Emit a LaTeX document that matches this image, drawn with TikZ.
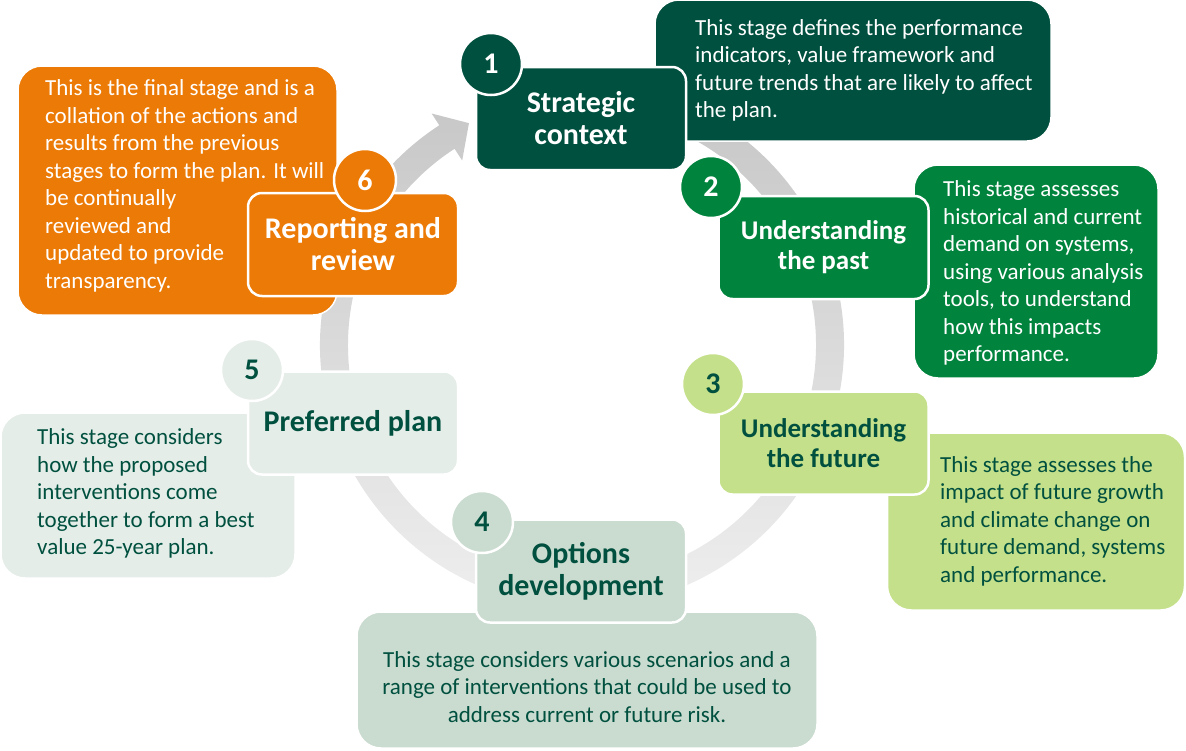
\documentclass[tikz,border=0pt]{standalone}
\usepackage{fontspec}
\setmainfont{Carlito}
\usetikzlibrary{calc}

\definecolor{dkgreen}{HTML}{00503F}
\definecolor{midgreen}{HTML}{00843D}
\definecolor{ltgreen}{HTML}{C5E08A}
\definecolor{sage}{HTML}{CADBCF}
\definecolor{pale}{HTML}{E5EDE8}
\definecolor{orange}{HTML}{EC7A06}
\definecolor{ringtop}{HTML}{C6C6C6}
\definecolor{ringbot}{HTML}{F0F0F0}

\tikzset{
  descbox/.style={rounded corners=24pt, draw=white, line width=1.5pt, inner sep=0pt},
  desctext/.style={inner sep=0pt, align=left, font=\fontsize{23}{27.5}\selectfont},
  stage/.style={rounded corners=14pt, draw=white, line width=2.5pt, minimum width=210pt,
    minimum height=103pt, inner sep=0pt, align=center, font=\bfseries\fontsize{30}{32}\selectfont},
  smallstage/.style={stage, font=\bfseries\fontsize{27}{30}\selectfont},
  num/.style={circle, draw=white, line width=2.5pt, minimum size=62pt, inner sep=0pt,
    font=\bfseries\fontsize{30}{30}\selectfont}
}

\begin{document}
\begin{tikzpicture}[x=1pt,y=1pt,yscale=-1]
\useasboundingbox (0,0) rectangle (1186,750);

% ring with arrow
\coordinate (c) at (582,345);
\shade[top color=ringtop, bottom color=ringbot]
  ($(c)+(280:262)$) arc[start angle=280, end angle=597, radius=262]
  -- ($(c)+(597:276)$) -- ($(c)+(603:249)$) -- ($(c)+(597:220)$) -- ($(c)+(597:234)$)
  arc[start angle=597, end angle=280, radius=234] -- cycle;

% descriptions
\node[descbox, fill=dkgreen, minimum width=396pt, minimum height=141pt] (d1) at (853,70.5) {};
\node[desctext, text=white, anchor=west] (t1) at (695,70.5)
  {This stage defines the performance\\indicators, value framework and\\future trends that are likely to affect\\the plan.};

\node[descbox, fill=midgreen, minimum width=244pt, minimum height=213pt] (d2) at (1036,271.5) {};
\node[desctext, text=white, anchor=west] (t2) at (943,273)
  {This stage assesses\\historical and current\\demand on systems,\\using various analysis\\tools, to understand\\how this impacts\\performance.};

\node[descbox, fill=ltgreen, minimum width=297pt, minimum height=177pt] (d3) at (1036,521.5) {};
\node[desctext, text=dkgreen, anchor=west] (t3) at (940,521)
  {This stage assesses the\\impact of future growth\\and climate change on\\future demand, systems\\and performance.};

\node[descbox, fill=sage, minimum width=460pt, minimum height=136pt] (d4) at (587,680) {};
\node[desctext, text=dkgreen, align=center] (t4) at (587,687)
  {This stage considers various scenarios and a\\range of interventions that could be used to\\address current or future risk.};

\node[descbox, fill=pale, minimum width=294pt, minimum height=165pt] (d5) at (148,495.5) {};
\node[desctext, text=dkgreen, anchor=west] (t5) at (37,493.5)
  {This stage considers\\how the proposed\\interventions come\\together to form a best\\value 25-year plan.};

\node[descbox, fill=orange, minimum width=319pt, minimum height=249pt] (d6) at (177.5,190.5) {};
\node[desctext, text=white, anchor=west] (t6) at (45,186)
  {This is the final stage and is a\\collation of the actions and\\results from the previous\\stages to form the plan. It will\\be continually\\reviewed and\\updated to provide\\transparency.};

% stages
\node[stage, fill=dkgreen, text=white] (s1) at (581,118.5) {Strategic\\context};
\node[smallstage, fill=midgreen, text=white] (s2) at (823.5,247.5) {Understanding\\the past};
\node[smallstage, fill=ltgreen, text=dkgreen] (s3) at (823.5,443) {Understanding\\the future};
\node[stage, fill=sage, text=dkgreen] (s4) at (581,571) {Options\\development};
\node[stage, fill=pale, text=dkgreen] (s5) at (353,423) {Preferred plan};
\node[stage, fill=orange, text=white] (s6) at (353,244.5) {Reporting and\\review};

% numbers
\node[num, fill=dkgreen, text=white] (n1) at (491,64) {1};
\node[num, fill=midgreen, text=white] (n2) at (711,187) {2};
\node[num, fill=ltgreen, text=dkgreen] (n3) at (713,384) {3};
\node[num, fill=sage, text=dkgreen] (n4) at (482,522) {4};
\node[num, fill=pale, text=dkgreen] (n5) at (252,370) {5};
\node[num, fill=orange, text=white] (n6) at (365,180) {6};

\end{tikzpicture}
\end{document}
